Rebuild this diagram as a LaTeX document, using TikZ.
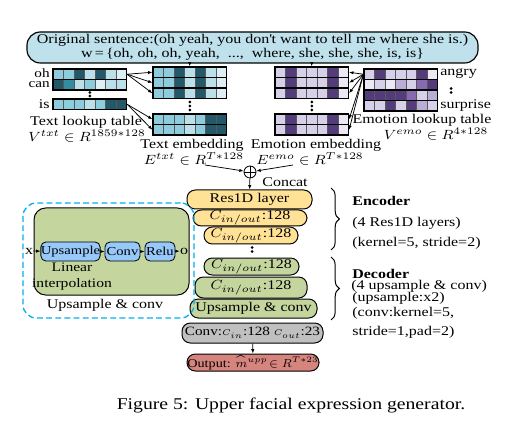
\documentclass[tikz,border=0pt]{standalone}
\usepackage{fontspec}
\setmainfont{Liberation Serif}[FakeStretch=1.2]
\usepackage{graphicx}
\usepackage{tikz}
\usetikzlibrary{arrows.meta, positioning, calc, fit, decorations.pathreplacing}

\definecolor{sentblue}{RGB}{190,225,236}
\definecolor{txtA}{RGB}{222,240,245}
\definecolor{txtB}{RGB}{187,224,234}
\definecolor{txtC}{RGB}{140,204,220}
\definecolor{txtD}{RGB}{52,140,160}
\definecolor{txtE}{RGB}{34,88,104}
\definecolor{emoA}{RGB}{236,233,245}
\definecolor{emoB}{RGB}{214,208,232}
\definecolor{emoC}{RGB}{186,174,216}
\definecolor{emoD}{RGB}{136,106,178}
\definecolor{emoE}{RGB}{84,60,122}
\definecolor{encyellow}{RGB}{255,226,150}
\definecolor{decgreen}{RGB}{196,214,158}
\definecolor{convgray}{RGB}{192,192,192}
\definecolor{outred}{RGB}{214,132,126}
\definecolor{opblue}{RGB}{150,200,250}
\definecolor{dashcyan}{RGB}{0,176,240}

% wide math, to go with the stretched text
\newcommand{\wm}[1]{\scalebox{1.1}[1]{$#1$}}

% one row of a table: name, left x, top y, cell colours
\newcommand{\embrow}[4]{%
  \foreach \cc [count=\ii from 0] in {#4}
    \filldraw[fill=\cc, draw=black!65, line width=0.3pt] ({#2+\ii*10.5},#3) rectangle ++(10.5,10.5);
  \node[fit={(#2,#3) ({#2+73.5},{#3+10.5})}, inner sep=0pt, draw, line width=0.7pt] (#1) {};
}

\begin{document}
\begin{tikzpicture}[x=0.6pt, y=-0.6pt,
  lbl/.style={inner sep=0pt, font=\fontsize{8}{8.5}\selectfont},
  stackbox/.style={draw, line width=0.6pt, rounded corners=5pt, inner sep=0pt, font=\fontsize{8}{8.5}\selectfont},
  opbox/.style={draw, line width=0.5pt, rounded corners=3pt, fill=opblue, inner sep=0pt, minimum height=19*0.6pt, font=\fontsize{7.3}{8}\selectfont},
  link/.style={-{Latex[length=2.6pt,width=2pt]}, line width=0.45pt}
]
  \useasboundingbox (0,0) rectangle (508,423);

  % Input sentence
  \node[draw, line width=0.7pt, rounded corners=8pt, fill=sentblue, minimum width=451*0.6pt, minimum height=31*0.6pt,
        align=center, inner sep=0pt, font=\fontsize{8}{8.4}\selectfont] (sent) at (252.5,47.5)
    {Original sentence:(oh yeah, you don\textquotesingle t want to tell me where she is.)\\
     w\,=\,\{oh, oh, oh, yeah,\ \ ...,\ \ where, she, she, she, is, is\}};

  % Text lookup table
  \embrow{toh}{53}{69}{txtC,txtC,txtE,txtB,txtE,txtB,txtA}
  \embrow{tcan}{53}{79.5}{txtE,txtD,txtB,txtC,txtA,txtB,txtB}
  \embrow{tis}{53}{99}{txtC,txtC,txtC,txtB,txtC,txtE,txtE}
  \fill (89.8,92.5) circle[radius=0.9pt] (89.8,96) circle[radius=0.9pt];
  \node[lbl, anchor=east, font=\fontsize{7.6}{8}\selectfont] (ohlbl) at (50,73) {oh};
  \node[lbl, anchor=east, font=\fontsize{7.6}{8}\selectfont] (canlbl) at (50,85) {can};
  \node[lbl, anchor=east] (islbl) at (50,104) {is};
  \node[lbl] (tlook) at (86,122.5) {Text lookup table};
  \node[lbl] (tlookv) at (87,136.5) {\wm{V^{txt}\in R^{1859*128}}};

  % Text embedding
  \embrow{temb1}{153}{67}{txtC,txtC,txtE,txtB,txtE,txtB,txtA}
  \embrow{temb2}{153}{77.5}{txtC,txtC,txtE,txtB,txtE,txtB,txtA}
  \embrow{temb3}{153}{88}{txtC,txtC,txtE,txtB,txtE,txtB,txtA}
  \embrow{temb4}{153}{114}{txtC,txtC,txtC,txtB,txtC,txtE,txtE}
  \embrow{temb5}{153}{124.5}{txtC,txtC,txtC,txtB,txtC,txtE,txtE}
  \fill (189.8,102) circle[radius=0.9pt] (189.8,106) circle[radius=0.9pt] (189.8,110) circle[radius=0.9pt];
  \node[lbl] (temb) at (192,145) {Text embedding};
  \node[lbl] (etxt) at (194,159) {\wm{E^{txt}\in R^{T*128}}};

  % Emotion embedding
  \embrow{eemb1}{275}{67}{emoB,emoE,emoB,emoB,emoB,emoE,emoA}
  \embrow{eemb2}{275}{77.5}{emoB,emoE,emoB,emoB,emoB,emoE,emoA}
  \embrow{eemb3}{275}{88}{emoB,emoE,emoB,emoB,emoB,emoE,emoA}
  \embrow{eemb4}{275}{114}{emoB,emoE,emoB,emoB,emoB,emoE,emoA}
  \embrow{eemb5}{275}{124.5}{emoB,emoE,emoB,emoB,emoB,emoE,emoA}
  \fill (311.8,102) circle[radius=0.9pt] (311.8,106) circle[radius=0.9pt] (311.8,110) circle[radius=0.9pt];
  \node[lbl] (eemb) at (316,145) {Emotion embedding};
  \node[lbl] (eemo) at (310,159) {\wm{E^{emo}\in R^{T*128}}};

  % Emotion lookup table
  \embrow{eang}{364}{69}{emoB,emoE,emoB,emoB,emoB,emoE,emoA}
  \embrow{erow2}{364}{79.5}{emoA,emoB,emoA,emoC,emoB,emoD,emoE}
  \embrow{erow3}{364}{90}{emoE,emoE,emoE,emoE,emoD,emoB,emoC}
  \embrow{esur}{364}{100.5}{emoB,emoB,emoE,emoB,emoE,emoC,emoB}
  \fill (451,88.5) circle[radius=0.9pt] (451,92.5) circle[radius=0.9pt];
  \node[lbl, anchor=west] (anglbl) at (440,74) {angry};
  \node[lbl, anchor=west] (surlbl) at (440,106) {surprise};
  \node[lbl] (elook) at (422,120.5) {Emotion lookup table};
  \node[lbl] (elookv) at (436,134) {\wm{V^{emo}\in R^{4*128}}};

  % lookups
  \draw[link] (temb1.north |- sent.south) -- (temb1.north);
  \draw[link] (eemb1.north |- sent.south) -- (eemb1.north);
  \foreach \r in {temb1,temb2,temb3} \draw[link] (toh.east) -- (\r.west);
  \foreach \r in {temb4,temb5} \draw[link] (tis.east) -- (\r.west);
  \foreach \r in {eemb1,eemb2,eemb3,eemb4,eemb5} \draw[link] (eang.west) -- (\r.east);

  % Concat
  \node[circle, draw, line width=0.5pt, minimum size=12*0.6pt, inner sep=0pt,
        path picture={\draw (path picture bounding box.north) -- (path picture bounding box.south)
                            (path picture bounding box.west) -- (path picture bounding box.east);}] (concat) at (250,172) {};
  \node[lbl] (concatlbl) at (285,182) {Concat};
  \coordinate (txtfeed) at (205,165);
  \coordinate (emofeed) at (293,165);
  \draw[link] (txtfeed) -- (concat);
  \draw[link] (emofeed) -- (concat);

  % Encoder / decoder stack
  \node[stackbox, fill=encyellow, minimum width=125*0.6pt, minimum height=19*0.6pt] (res) at (249.5,199.5) {Res1D layer};
  \node[stackbox, fill=encyellow, minimum width=114*0.6pt, minimum height=16*0.6pt] (enc1) at (250,218) {\wm{C_{in/out}}:128};
  \node[stackbox, fill=encyellow, minimum width=94*0.6pt, minimum height=17*0.6pt] (enc2) at (251,235.5) {\wm{C_{in/out}}:128};
  \fill (252,247.5) circle[radius=0.9pt] (252,251.5) circle[radius=0.9pt];
  \node[stackbox, fill=decgreen, minimum width=95*0.6pt, minimum height=17*0.6pt] (dec1) at (251.5,266.5) {\wm{C_{in/out}}:128};
  \node[stackbox, fill=decgreen, minimum width=112*0.6pt, minimum height=21*0.6pt] (dec2) at (251,287.5) {\wm{C_{in/out}}:128};
  \node[stackbox, fill=decgreen, minimum width=127*0.6pt, minimum height=19*0.6pt] (dec3) at (253.5,308.5) {Upsample \& conv};
  \node[stackbox, fill=convgray, minimum width=141*0.6pt, minimum height=20*0.6pt, font=\fontsize{7.6}{8}\selectfont] (conv) at (252.5,333) {Conv:$\scriptstyle C_{in}$:128 $\scriptstyle C_{out}$:23};
  \node[stackbox, fill=outred, minimum width=132*0.6pt, minimum height=17*0.6pt, font=\fontsize{7.1}{8}\selectfont] (out) at (253,362.5) {Output: $\widehat{m}^{upp}\!\in R^{T*23}$};
  \draw[link] (concat) -- (res);
  \draw[link] (conv) -- (out);

  % Braces
  \coordinate (encTop) at (331,188);
  \coordinate (encBot) at (331,250);
  \coordinate (decTop) at (331,257);
  \coordinate (decBot) at (331,320);
  \draw[decorate, decoration={brace, amplitude=5pt}, line width=0.6pt] (encTop) -- (encBot);
  \draw[decorate, decoration={brace, amplitude=5pt}, line width=0.6pt] (decTop) -- (decBot);
  \node[lbl, anchor=west, font=\fontsize{8}{8.5}\selectfont\bfseries] (enclbl) at (352,201) {Encoder};
  \node[lbl, anchor=west] (enc2lbl) at (352,223) {(4 Res1D layers)};
  \node[lbl, anchor=west] (enc3lbl) at (352,243) {(kernel=5, stride=2)};
  \node[lbl, anchor=west, font=\fontsize{8}{8.5}\selectfont\bfseries] (declbl) at (352,274) {Decoder};
  \node[lbl, anchor=west] (dec2lbl) at (351,286.5) {(4 upsample \& conv)};
  \node[lbl, anchor=west] (dec3lbl) at (352,298.5) {(upsample:x2)};
  \node[lbl, anchor=west] (dec4lbl) at (352,313) {(conv:kernel=5,};
  \node[lbl, anchor=west] (dec5lbl) at (352,332) {stride=1,pad=2)};

  % Upsample & conv block
  \node[draw=dashcyan, dash pattern=on 3.5pt off 2pt, line width=0.8pt, rounded corners=8pt, inner sep=0pt,
        minimum width=171*0.6pt, minimum height=115*0.6pt] (upsbox) at (108.5,260.5) {};
  \node[draw, fill=decgreen, line width=0.6pt, rounded corners=7pt, inner sep=0pt,
        minimum width=155*0.6pt, minimum height=87*0.6pt] (upsfill) at (111.5,251.5) {};
  \node[lbl] (xin) at (29,251) {x};
  \node[opbox, minimum width=59*0.6pt] (ups) at (70.5,251.5) {Upsample};
  \node[opbox, minimum width=35*0.6pt] (cnv) at (122.5,251.5) {Conv};
  \node[opbox, minimum width=30*0.6pt] (relu) at (160,251.5) {Relu};
  \node[lbl] (oout) at (184,251) {o};
  \draw[link] (xin) -- (ups);
  \draw[link] (ups) -- (cnv);
  \draw[link] (cnv) -- (relu);
  \draw[link] (relu) -- (oout);
  \node[lbl, align=center, font=\fontsize{7.8}{9.6}\selectfont] (linint) at (72,277) {Linear\\interpolation};
  \node[lbl] (upslbl) at (105,305) {Upsample \& conv};

  % Caption
  \node[inner sep=0pt, font=\fontsize{9.85}{11}\selectfont] (caption) at (291,405) {Figure 5: Upper facial expression generator.};
\end{tikzpicture}
\end{document}
